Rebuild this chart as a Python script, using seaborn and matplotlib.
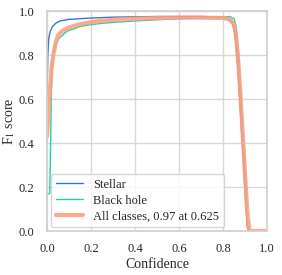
import numpy as np
import pandas as pd
import matplotlib
matplotlib.use("Agg")
import matplotlib.pyplot as plt
import seaborn as sns

# Data
conf_stellar = [0.0, 0.003, 0.008, 0.015, 0.025, 0.04, 0.06, 0.1, 0.2, 0.3, 0.5,
                0.7, 0.8, 0.82, 0.84, 0.85, 0.86, 0.87, 0.88, 0.89, 0.90, 0.91, 0.915]
f1_stellar = [0.62, 0.80, 0.88, 0.91, 0.93, 0.945, 0.955, 0.962, 0.968, 0.972, 0.975,
              0.975, 0.972, 0.966, 0.95, 0.92, 0.84, 0.70, 0.53, 0.36, 0.18, 0.02, 0.0]

conf_bh = [0.0, 0.012, 0.016, 0.02, 0.025, 0.03, 0.04, 0.05, 0.06, 0.07, 0.08, 0.1,
           0.12, 0.15, 0.2, 0.25, 0.3, 0.4, 0.5, 0.6, 0.7, 0.8, 0.83, 0.85, 0.86,
           0.87, 0.88, 0.89, 0.90, 0.91, 0.915]
f1_bh = [0.17, 0.17, 0.40, 0.65, 0.78, 0.82, 0.85, 0.868, 0.882, 0.888, 0.90, 0.912,
         0.918, 0.93, 0.938, 0.944, 0.948, 0.955, 0.96, 0.965, 0.968, 0.972, 0.975,
         0.965, 0.93, 0.80, 0.62, 0.44, 0.26, 0.06, 0.0]

conf_all = [0.0, 0.01, 0.02, 0.03, 0.04, 0.05, 0.07, 0.1, 0.15, 0.2, 0.3, 0.4, 0.5,
            0.625, 0.7, 0.8, 0.83, 0.85, 0.86, 0.87, 0.88, 0.89, 0.90, 0.91, 0.92, 1.0]
f1_all = [0.43, 0.60, 0.74, 0.81, 0.86, 0.89, 0.91, 0.925, 0.94, 0.95, 0.96, 0.965,
          0.968, 0.97, 0.97, 0.968, 0.962, 0.94, 0.88, 0.76, 0.60, 0.43, 0.26, 0.09,
          0.0, 0.0]

labels = ["Stellar", "Black hole", "All classes, 0.97 at 0.625"]
x_ticks = [0.0, 0.2, 0.4, 0.6, 0.8, 1.0]
y_ticks = [0.0, 0.2, 0.4, 0.6, 0.8, 1.0]

sns.set_theme(style="whitegrid")
plt.rcParams["font.family"] = ["Liberation Serif", "DejaVu Serif"]
plt.rcParams["mathtext.fontset"] = "stix"

fig, ax = plt.subplots(figsize=(2.82, 2.75), dpi=100)
fig.subplots_adjust(left=0.167, right=0.947, bottom=0.16, top=0.96)

df_s = pd.DataFrame({"x": conf_stellar, "y": f1_stellar})
df_b = pd.DataFrame({"x": conf_bh, "y": f1_bh})
df_a = pd.DataFrame({"x": conf_all, "y": f1_all})

sns.lineplot(data=df_s, x="x", y="y", ax=ax, color="#3a72d8", lw=1.0,
             label=labels[0], estimator=None, sort=False)
sns.lineplot(data=df_b, x="x", y="y", ax=ax, color="#1fd2aa", lw=1.0,
             label=labels[1], estimator=None, sort=False)
sns.lineplot(data=df_a, x="x", y="y", ax=ax, color="#ff9f80", lw=3.0, alpha=0.9,
             label=labels[2], estimator=None, sort=False)

ax.set_xlim(0, 1)
ax.set_ylim(0, 1)
ax.set_xticks(x_ticks)
ax.set_yticks(y_ticks)
ax.set_xticklabels([f"{t:.1f}" for t in x_ticks])
ax.set_yticklabels([f"{t:.1f}" for t in y_ticks])
ax.tick_params(labelsize=9, pad=3)
ax.set_xlabel("Confidence", fontsize=10, labelpad=2)
ax.set_ylabel("F$_1$ score", fontsize=10, labelpad=1)
for s in ax.spines.values():
    s.set_color("#d0d0d0")
ax.grid(color="#d8d8d8", lw=1.0)

ax.legend(loc="lower left", fontsize=9, frameon=True, handlelength=2.2,
          borderaxespad=0.3, labelspacing=0.3)

fig.savefig("out.png", dpi=100)
